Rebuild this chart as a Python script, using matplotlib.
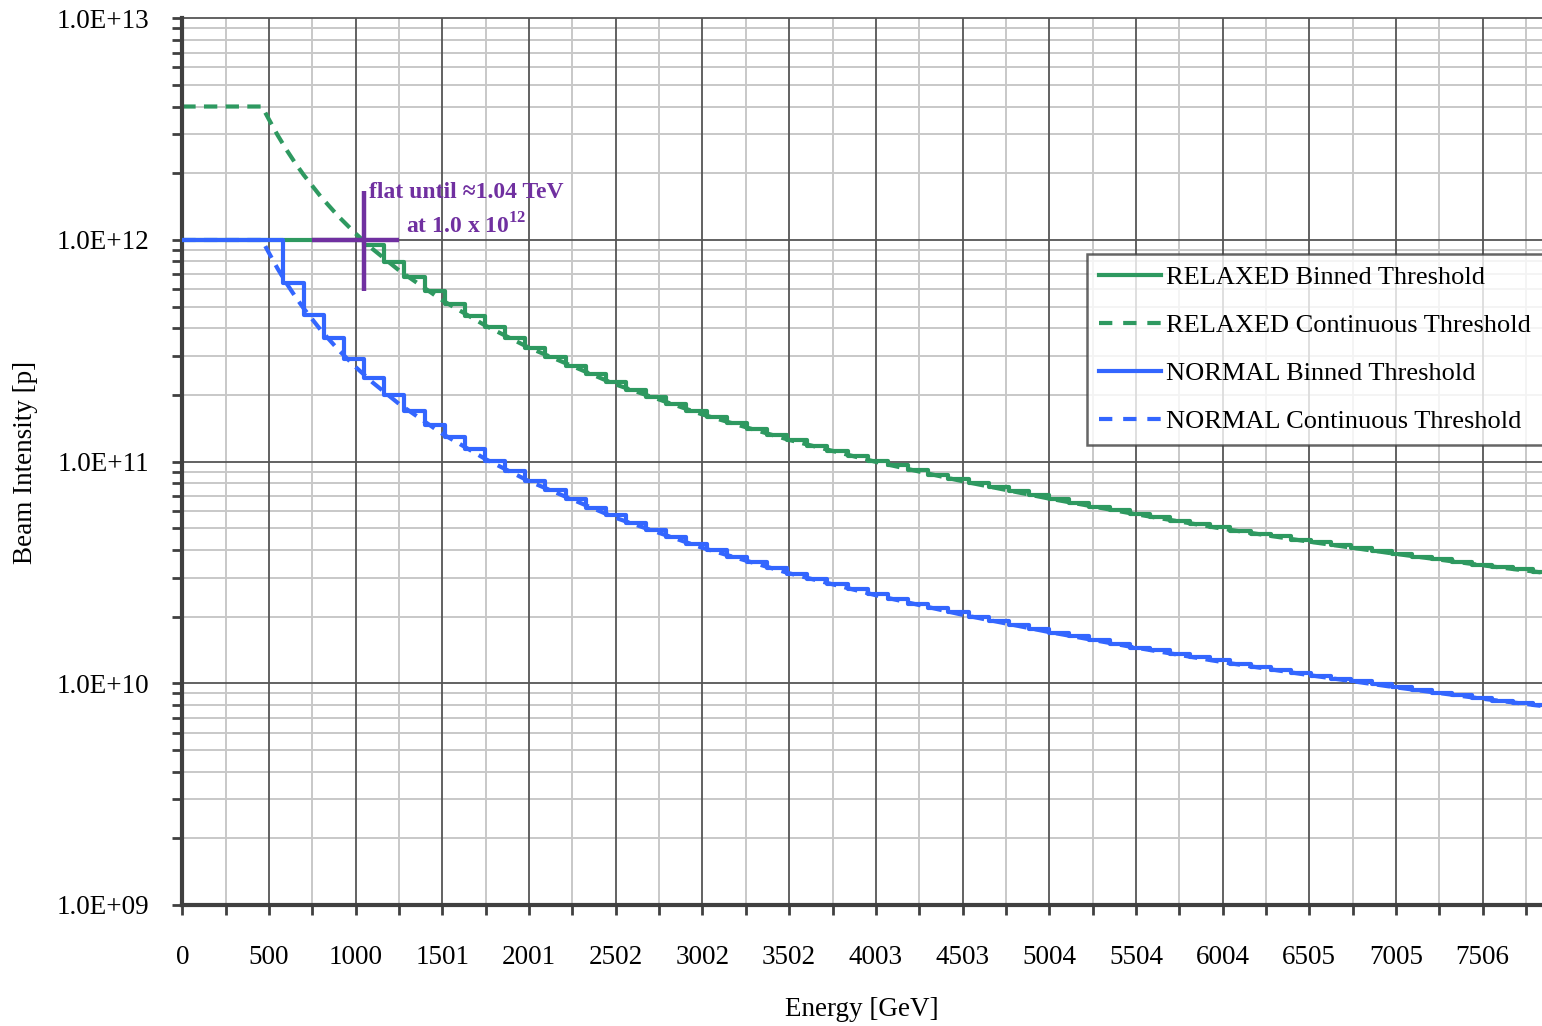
import matplotlib
matplotlib.use('Agg')
import matplotlib.pyplot as plt
from matplotlib.ticker import FixedLocator, FuncFormatter, LogLocator, NullFormatter
from matplotlib.lines import Line2D
import numpy as np

# ---------------- data ----------------
# start energy of each bin of the binned thresholds [GeV]
bin_start_gev = [0, 584, 700, 817, 933, 1049, 1166, 1282, 1398, 1514, 1631, 1747,
                 1863, 1980, 2096, 2212, 2329, 2445, 2561, 2677, 2794, 2910, 3026,
                 3143, 3259, 3375, 3492, 3608, 3724, 3840, 3957, 4073, 4189, 4306,
                 4422, 4538, 4655, 4771, 4887, 5003, 5120, 5236, 5352, 5469, 5585,
                 5701, 5818, 5934, 6050, 6166, 6283, 6399, 6515, 6632, 6748, 6864,
                 6981, 7097, 7213, 7329, 7446, 7562, 7678, 7795]
# RELAXED binned threshold [1e10 p]
relaxed_binned_e10 = [100, 100, 100, 100, 100, 95.4, 79.9, 68.1, 58.9, 51.4, 45.4,
                      40.4, 36.2, 32.7, 29.7, 27.1, 24.8, 22.9, 21.1, 19.6, 18.2,
                      17.0, 15.9, 14.9, 14.0, 13.2, 12.5, 11.8, 11.2, 10.6, 10.1,
                      9.61, 9.16, 8.74, 8.35, 7.99, 7.66, 7.34, 7.04, 6.76, 6.51,
                      6.26, 6.03, 5.81, 5.62, 5.42, 5.24, 5.06, 4.89, 4.74, 4.60,
                      4.45, 4.32, 4.19, 4.07, 3.95, 3.84, 3.73, 3.63, 3.53, 3.43,
                      3.34, 3.27, 3.18]
# NORMAL binned threshold [1e10 p]
normal_binned_e10 = [100, 63.8, 45.9, 36.3, 29.0, 23.9, 20.0, 17.0, 14.7, 12.9, 11.4,
                     10.1, 9.06, 8.17, 7.42, 6.77, 6.21, 5.72, 5.28, 4.90, 4.56,
                     4.25, 3.98, 3.73, 3.51, 3.31, 3.12, 2.95, 2.80, 2.66, 2.52,
                     2.40, 2.29, 2.19, 2.09, 2.00, 1.92, 1.84, 1.76, 1.69, 1.63,
                     1.57, 1.51, 1.45, 1.41, 1.36, 1.31, 1.27, 1.22, 1.19, 1.15,
                     1.11, 1.08, 1.05, 1.02, 0.988, 0.960, 0.933, 0.908, 0.883,
                     0.858, 0.835, 0.817, 0.795]
# continuous thresholds sampled along the curve
cont_energy_gev = [0, 460, 500, 550, 600, 650, 700, 800, 900, 1000, 1100, 1250,
                   1500, 1750, 2000, 2500, 3000, 3500, 4000, 4500, 5000, 5500,
                   6000, 6500, 7000, 7500, 7850]
relaxed_cont_e12 = [4.0, 4.0, 3.498, 2.972, 2.561, 2.234, 1.968, 1.566, 1.2805,
                    1.0694, 0.9085, 0.7301, 0.5346, 0.4107, 0.3269, 0.2231, 0.1634,
                    0.1255, 0.0999, 0.0817, 0.0682, 0.0580, 0.0499, 0.0436, 0.0384,
                    0.0341, 0.0316]
normal_cont_e12 = [1.0, 1.0, 0.8745, 0.743, 0.640, 0.5585, 0.492, 0.3915, 0.320,
                   0.2674, 0.2271, 0.1825, 0.1337, 0.1027, 0.0817, 0.0558, 0.0409,
                   0.0314, 0.0250, 0.0204, 0.01705, 0.0145, 0.01248, 0.0109, 0.0096,
                   0.00853, 0.0079]

x_tick_labels = ["0", "500", "1000", "1501", "2001", "2502", "3002", "3502", "4003",
                 "4503", "5004", "5504", "6004", "6505", "7005", "7506"]
x_tick_step = 500.4
x_max = 7848

series_labels = ["RELAXED Binned Threshold", "RELAXED Continuous Threshold",
                 "NORMAL Binned Threshold", "NORMAL Continuous Threshold"]

# annotation (crosshair at the flat-until point)
cross_e = 1047
cross_i = 1.0e12
cross_h = [750, 1250]
cross_v = [0.59e12, 1.66e12]

# ---------------- style ----------------
plt.rcParams['font.family'] = ['Liberation Serif', 'DejaVu Serif']
plt.rcParams['mathtext.fontset'] = 'custom'
plt.rcParams['mathtext.rm'] = 'Liberation Serif'
plt.rcParams['mathtext.bf'] = 'Liberation Serif:bold'
GREEN = '#2E9960'
BLUE = '#3366FF'
PURPLE = '#7030A0'
AXC = '#404040'
FS = 19.5

fig = plt.figure(figsize=(15.42, 10.26), dpi=100)
ax = fig.add_axes([182.3 / 1542, 1 - 905 / 1026, 1 - 182.3 / 1542, (905 - 18.3) / 1026])

ax.set_yscale('log')
ax.set_ylim(1e9, 1e13)
ax.set_xlim(0, x_max)

# ticks
major_x = np.arange(len(x_tick_labels)) * x_tick_step
minor_x = major_x + x_tick_step / 2
ax.xaxis.set_major_locator(FixedLocator(major_x))
ax.xaxis.set_minor_locator(FixedLocator(minor_x))
ax.set_xticklabels(x_tick_labels)
ax.yaxis.set_major_locator(LogLocator(base=10, numticks=10))
ax.yaxis.set_minor_locator(LogLocator(base=10, subs=np.arange(2, 10), numticks=50))
ax.yaxis.set_minor_formatter(NullFormatter())
ax.yaxis.set_major_formatter(FuncFormatter(lambda v, p: "1.0E+%02d" % int(round(np.log10(v)))))

ax.tick_params(which='both', direction='out', color=AXC, width=2, length=7)
ax.tick_params(axis='x', which='major', pad=22, labelsize=FS)
ax.tick_params(axis='y', which='major', pad=17, labelsize=FS)

# grid lines (minor light, major dark on top)
for xv in minor_x:
    if xv <= x_max:
        ax.axvline(xv, color='#C8C8C8', lw=1.4, zorder=0.5)
for yv in [m * 10.0 ** e for e in range(9, 13) for m in range(2, 10)]:
    ax.axhline(yv, color='#C8C8C8', lw=1.4, zorder=0.5)
for xv in major_x[1:]:
    ax.axvline(xv, color='#555555', lw=1.3, zorder=0.6)
for e in range(10, 14):
    ax.axhline(10.0 ** e, color='#555555', lw=1.3, zorder=0.6, clip_on=False)

for s in ['top', 'right']:
    ax.spines[s].set_visible(False)
for s in ['left', 'bottom']:
    ax.spines[s].set_color(AXC)
    ax.spines[s].set_linewidth(3)

# curves
def steps(x, v, scale):
    xs = list(x) + [x_max]
    ys = [a * scale for a in v] + [v[-1] * scale]
    return xs, ys

LW = 3.0
dash = (0, (3.2, 2.0))
ax.plot(cont_energy_gev, [v * 1e12 for v in relaxed_cont_e12], color=GREEN, lw=LW,
        linestyle=dash, zorder=2)
xs, ys = steps(bin_start_gev, relaxed_binned_e10, 1e10)
ax.step(xs, ys, where='post', color=GREEN, lw=LW, zorder=3)
ax.plot(cont_energy_gev, [v * 1e12 for v in normal_cont_e12], color=BLUE, lw=LW,
        linestyle=dash, zorder=2)
xs, ys = steps(bin_start_gev, normal_binned_e10, 1e10)
ax.step(xs, ys, where='post', color=BLUE, lw=LW, zorder=3)

# annotation crosshair
ax.plot(cross_h, [cross_i, cross_i], color=PURPLE, lw=3.2, zorder=5, solid_capstyle='butt')
ax.plot([cross_e, cross_e], cross_v, color=PURPLE, lw=3.2, zorder=5, solid_capstyle='butt')
ax.text(1075, 1.64e12, "flat until \u22481.04 TeV", color=PURPLE, fontsize=17,
        fontweight='bold', ha='left', va='center', zorder=6)
ax.text(1290, 1.16e12, r"at 1.0 x 10$^{\mathbf{12}}$", color=PURPLE, fontsize=17,
        fontweight='bold', ha='left', va='center', zorder=6)

# axis labels
fig.text(862 / 1542, 1 - 1010 / 1026, "Energy [GeV]", fontsize=FS, ha='center', va='center')
fig.text(25 / 1542, 1 - 462 / 1026, "Beam Intensity [p]", fontsize=FS, ha='center',
         va='center', rotation=90)

# legend
handles = [Line2D([], [], color=GREEN, lw=LW),
           Line2D([], [], color=GREEN, lw=LW, linestyle=(0, (3.2, 2.6))),
           Line2D([], [], color=BLUE, lw=LW),
           Line2D([], [], color=BLUE, lw=LW, linestyle=(0, (3.2, 2.6)))]
leg = fig.legend(handles, series_labels, loc='upper left',
                 bbox_to_anchor=(1087 / 1542, 1 - 254 / 1026), borderaxespad=0,
                 fontsize=19, frameon=True, fancybox=False, handlelength=2.35,
                 handletextpad=0.2, labelspacing=0.93, borderpad=0.45)
leg.get_frame().set_edgecolor(AXC)
leg.get_frame().set_linewidth(1.8)

fig.savefig('out.png', dpi=100)
